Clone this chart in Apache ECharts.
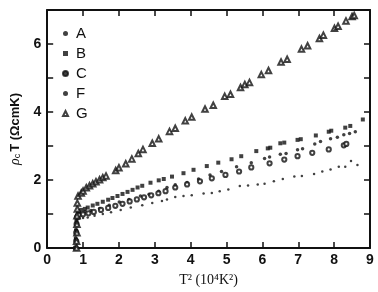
<!DOCTYPE html>
<html>
<head>
<meta charset="utf-8">
<script src="https://cdn.jsdelivr.net/npm/echarts@6/dist/echarts.min.js"></script>
<style>
  html, body { margin: 0; padding: 0; background: #fff; }
  #chart { width: 378px; height: 292px; }
</style>
</head>
<body>
<div id="chart"></div>
<script>
// rho_c*T vs T^2 for five samples; each one drops to zero at Tc (T^2 ~ 0.8e4 K^2).
// Points as [T^2 (1e4 K^2), rho_c*T (Ohm cm K)].

const xTicks = [0, 1, 2, 3, 4, 5, 6, 7, 8, 9];
const yTicks = [0, 2, 4, 6];

const seriesA = [
  [0.79, 0], [0.79, 0.3], [0.8, 0.55], [0.81, 0.8], [0.83, 0.98], [0.9, 1.04], [1.05, 1.07],
  [1.22, 1.1], [1.46, 1.16], [1.73, 1.26], [2.01, 1.35], [2.28, 1.43], [2.6, 1.53], [2.84, 1.58],
  [3.11, 1.67], [3.34, 1.78], [3.57, 1.86], [3.9, 1.93], [4.22, 2.03], [4.54, 2.15], [4.86, 2.25],
  [5.28, 2.39], [5.69, 2.51], [6.06, 2.63], [6.2, 2.68], [6.5, 2.76], [6.66, 2.78], [6.98, 2.89],
  [7.12, 2.92], [7.46, 3.06], [7.62, 3.13], [7.9, 3.21], [8.09, 3.26], [8.27, 3.33], [8.43, 3.37],
  [8.59, 3.42],
];
const seriesB = [
  [0.8, 0], [0.8, 0.25], [0.81, 0.5], [0.82, 0.75], [0.83, 0.95], [0.86, 1.08], [0.95, 1.12],
  [1.05, 1.15], [1.13, 1.19], [1.27, 1.25], [1.4, 1.3], [1.55, 1.36], [1.7, 1.42], [1.82, 1.47],
  [1.96, 1.53], [2.1, 1.59], [2.24, 1.65], [2.38, 1.71], [2.52, 1.78], [2.65, 1.83], [2.88, 1.92],
  [3.11, 1.99], [3.25, 2.03], [3.48, 2.1], [3.8, 2.2], [4.08, 2.3], [4.45, 2.41], [4.77, 2.51],
  [5.14, 2.61], [5.41, 2.7], [5.83, 2.85], [6.15, 2.93], [6.22, 2.95], [6.5, 3.08], [6.61, 3.1],
  [6.98, 3.18], [7.07, 3.2], [7.49, 3.31], [7.85, 3.42], [7.92, 3.45], [8.31, 3.54], [8.45, 3.59],
  [8.8, 3.78],
];
const seriesC = [
  [0.8, 0], [0.81, 0.2], [0.81, 0.45], [0.82, 0.7], [0.83, 0.9], [0.88, 0.97], [1.0, 0.99],
  [1.15, 1.02], [1.3, 1.06], [1.5, 1.12], [1.7, 1.18], [1.9, 1.24], [2.1, 1.3], [2.3, 1.37],
  [2.5, 1.43], [2.7, 1.49], [2.9, 1.55], [3.1, 1.61], [3.3, 1.67], [3.57, 1.78], [3.9, 1.87],
  [4.26, 1.96], [4.59, 2.05], [4.97, 2.15], [5.35, 2.25], [5.69, 2.37], [6.2, 2.49], [6.61, 2.6],
  [6.98, 2.7], [7.39, 2.8], [7.85, 2.9], [8.27, 3.02], [8.34, 3.06],
];
const seriesF = [
  [0.78, 0], [0.79, 0.25], [0.8, 0.5], [0.81, 0.72], [0.83, 0.85], [0.9, 0.87], [1.0, 0.88],
  [1.13, 0.9], [1.32, 0.95], [1.55, 1.0], [1.78, 1.05], [2.05, 1.12], [2.33, 1.19], [2.65, 1.26],
  [2.93, 1.32], [3.2, 1.38], [3.34, 1.43], [3.57, 1.5], [3.8, 1.53], [4.03, 1.55], [4.36, 1.6],
  [4.59, 1.62], [4.81, 1.67], [5.05, 1.72], [5.37, 1.82], [5.6, 1.84], [5.87, 1.87], [6.06, 1.89],
  [6.32, 1.96], [6.57, 2.03], [6.89, 2.1], [7.1, 2.12], [7.44, 2.18], [7.67, 2.25], [7.9, 2.31],
  [8.13, 2.39], [8.31, 2.39], [8.47, 2.56], [8.65, 2.44],
];
const seriesG = [
  [0.82, 0], [0.82, 0.2], [0.83, 0.45], [0.83, 0.7], [0.83, 0.95], [0.84, 1.15], [0.84, 1.32],
  [0.86, 1.53], [0.95, 1.62], [1.0, 1.68], [1.09, 1.77], [1.18, 1.83], [1.27, 1.89], [1.36, 1.95],
  [1.46, 2.01], [1.55, 2.07], [1.64, 2.12], [1.91, 2.28], [2.0, 2.36], [2.19, 2.48], [2.36, 2.62],
  [2.54, 2.78], [2.67, 2.9], [2.93, 3.08], [3.11, 3.21], [3.41, 3.43], [3.57, 3.52], [3.85, 3.74],
  [4.03, 3.85], [4.4, 4.09], [4.63, 4.2], [4.95, 4.46], [5.11, 4.52], [5.39, 4.72], [5.51, 4.81],
  [5.64, 4.87], [5.97, 5.1], [6.17, 5.22], [6.52, 5.47], [6.69, 5.55], [7.09, 5.85], [7.26, 5.95],
  [7.59, 6.16], [7.7, 6.26], [8.01, 6.46], [8.11, 6.52], [8.33, 6.68], [8.5, 6.81], [8.56, 6.84],
];

const INK = "#111";
const SANS = "Liberation Sans, Arial, sans-serif";
const tickFont = { color: INK, fontFamily: SANS, fontWeight: "bold", fontSize: 14 };
const frame = { show: true, onZero: false, lineStyle: { color: INK, width: 2 } };
const ticks = { show: true, inside: true, length: 6, lineStyle: { color: INK, width: 1.5 } };

const chart = echarts.init(document.getElementById("chart"));

const scatter = (name, data, symbol, size, hollow) => ({
  name, type: "scatter", data, symbol, symbolSize: size,
  itemStyle: hollow ? { color: INK, borderColor: INK, borderWidth: 1.2 } : { color: INK },
});

chart.setOption({
  animation: false,
  backgroundColor: "#fff",
  grid: { left: 44, right: 8, top: 10, bottom: 39 },
  legend: {
    orient: "vertical", left: 57, top: 21, itemWidth: 5, itemHeight: 5, itemGap: 5,
    textStyle: { color: INK, fontFamily: SANS, fontSize: 15, padding: [0, 0, 0, 3] },
    data: [
      { name: "A", icon: "circle" },
      { name: "B", icon: "rect" },
      { name: "C", icon: "circle" },
      { name: "F", icon: "circle" },
      { name: "G", icon: "emptyTriangle" },
    ],
  },
  xAxis: [
    {
      type: "value", min: 0, max: 9, interval: 1, position: "bottom",
      axisLine: frame, splitLine: { show: false }, axisTick: ticks,
      axisLabel: Object.assign({ margin: 5 }, tickFont),
      name: "T² (10⁴K²)", nameLocation: "middle", nameGap: 25,
      nameTextStyle: { color: INK, fontFamily: "Liberation Serif, DejaVu Serif, serif", fontSize: 14 },
    },
    {
      type: "value", min: 0, max: 9, interval: 1, position: "top",
      axisLine: frame, splitLine: { show: false }, axisTick: ticks,
      axisLabel: { show: false },
    },
  ],
  yAxis: [
    {
      type: "value", min: 0, max: 7, interval: 1, position: "left",
      axisLine: frame, splitLine: { show: false }, axisTick: ticks,
      axisLabel: Object.assign({ margin: 6, formatter: (v) => (yTicks.includes(v) ? String(v) : "") }, tickFont),
      name: "{i|ρ}{s|c}{n|T (ΩcmK)}", nameLocation: "middle", nameGap: 22,
      nameTextStyle: {
        color: INK, fontFamily: SANS, fontSize: 13,
        rich: {
          i: { fontStyle: "italic", fontSize: 14, color: INK, fontFamily: "Liberation Serif, serif" },
          s: { fontSize: 9, color: INK, verticalAlign: "bottom", padding: [6, 2, 0, 0] },
          n: { fontSize: 13, color: INK, fontWeight: "bold", fontFamily: SANS },
        },
      },
    },
    {
      type: "value", min: 0, max: 7, interval: 1, position: "right",
      axisLine: frame, splitLine: { show: false }, axisTick: ticks,
      axisLabel: { show: false },
    },
  ],
  series: [
    scatter("A", seriesA, "circle", 3.5),
    scatter("B", seriesB, "rect", 4),
    scatter("C", seriesC, "emptyCircle", 4.2, true),
    scatter("F", seriesF, "circle", 2.5),
    scatter("G", seriesG, "emptyTriangle", 5.5, true),
  ],
});
</script>
</body>
</html>
